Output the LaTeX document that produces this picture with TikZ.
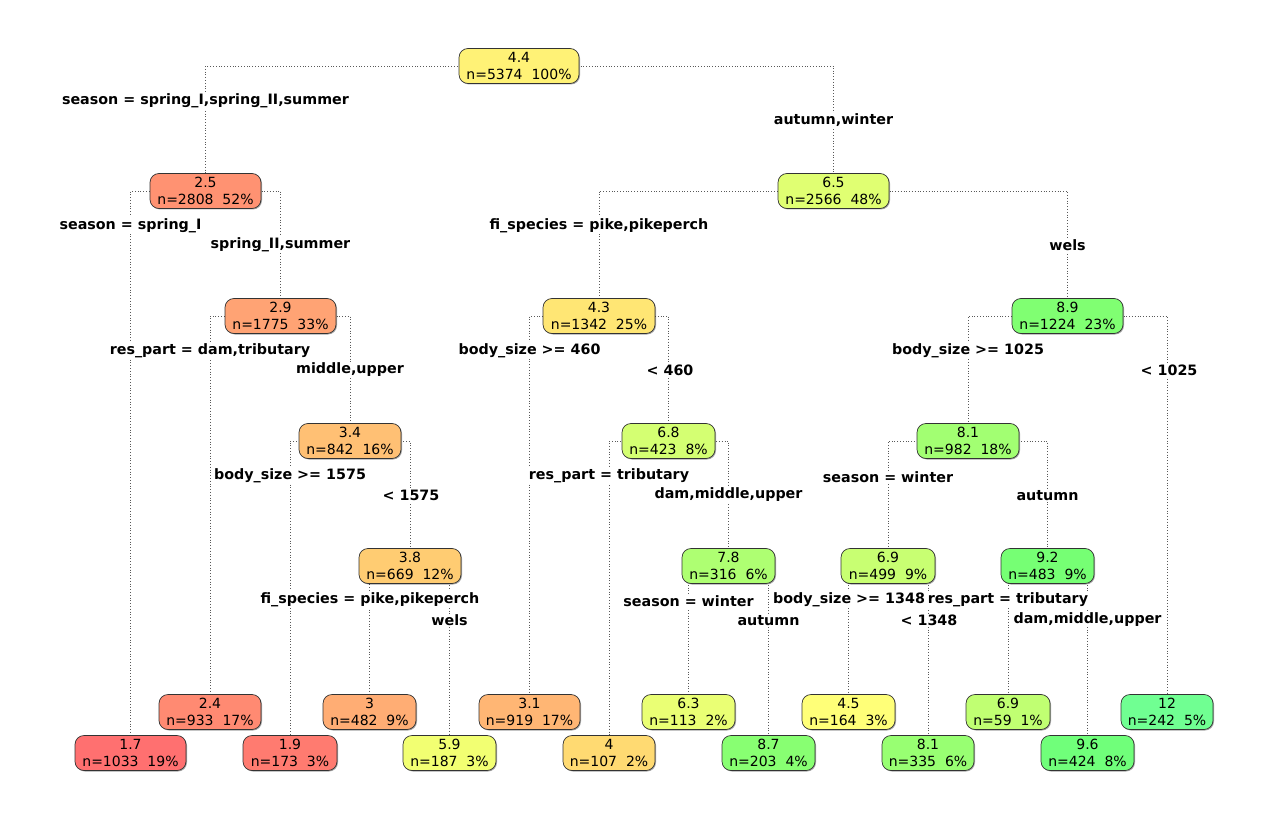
\documentclass[tikz,border=0pt]{standalone}
\usepackage{fontspec}
\setmainfont{DejaVu Sans}
\usetikzlibrary{shadows,backgrounds}
\definecolor{cA}{HTML}{FF7070}
\definecolor{cB}{HTML}{FF7B70}
\definecolor{cC}{HTML}{FF8A72}
\definecolor{cD}{HTML}{FF9272}
\definecolor{cE}{HTML}{FFA374}
\definecolor{cF}{HTML}{FFAD74}
\definecolor{cG}{HTML}{FFB674}
\definecolor{cH}{HTML}{FFC074}
\definecolor{cI}{HTML}{FFCC72}
\definecolor{cJ}{HTML}{FFDA72}
\definecolor{cK}{HTML}{FFE674}
\definecolor{cL}{HTML}{FFF276}
\definecolor{cM}{HTML}{FFFF78}
\definecolor{cN}{HTML}{F2FF72}
\definecolor{cO}{HTML}{EAFF74}
\definecolor{cP}{HTML}{E0FF72}
\definecolor{cQ}{HTML}{D4FF72}
\definecolor{cR}{HTML}{C8FF72}
\definecolor{cS}{HTML}{C0FF72}
\definecolor{cT}{HTML}{AEFF72}
\definecolor{cU}{HTML}{A2FF72}
\definecolor{cV}{HTML}{98FF72}
\definecolor{cW}{HTML}{88FF72}
\definecolor{cX}{HTML}{80FF72}
\definecolor{cY}{HTML}{76FF74}
\definecolor{cZ}{HTML}{70FF7A}
\definecolor{cZZ}{HTML}{70FF92}
\tikzset{
  box/.style={draw=black!80, line width=0.7pt, rounded corners=9pt, minimum height=35pt,
    inner sep=0pt, align=center, font=\fontsize{14}{17}\selectfont,
    drop shadow={shadow xshift=1pt, shadow yshift=-1pt, fill=black, opacity=0.35}},
  edge/.style={draw=black!65, line width=0.8pt, dash pattern=on 0.8pt off 2pt},
  lab/.style={fill=white, inner sep=1pt, yshift=-1.5pt, font=\fontsize{14.3}{17}\selectfont\bfseries}
}
\begin{document}
\begin{tikzpicture}[x=1pt,y=-1pt]
\useasboundingbox (0,0) rectangle (1276,818);
% internal nodes
\node[box, fill=cL, minimum width=120pt] (n1) at (519,66) {4.4\\n=5374\ \ 100\%};
\node[box, fill=cD, minimum width=111pt] (n2) at (205.5,191) {2.5\\n=2808\ \ 52\%};
\node[box, fill=cP, minimum width=111pt] (n3) at (833.5,191) {6.5\\n=2566\ \ 48\%};
\node[box, fill=cE, minimum width=111pt] (n4) at (280.5,316) {2.9\\n=1775\ \ 33\%};
\node[box, fill=cK, minimum width=112pt] (n5) at (599,316) {4.3\\n=1342\ \ 25\%};
\node[box, fill=cX, minimum width=111pt] (n6) at (1067.5,316) {8.9\\n=1224\ \ 23\%};
\node[box, fill=cH, minimum width=102pt] (n7) at (350,441) {3.4\\n=842\ \ 16\%};
\node[box, fill=cQ, minimum width=93pt] (n8) at (668.5,441) {6.8\\n=423\ \ 8\%};
\node[box, fill=cU, minimum width=102pt] (n9) at (968,441) {8.1\\n=982\ \ 18\%};
\node[box, fill=cI, minimum width=102pt] (n10) at (410,566) {3.8\\n=669\ \ 12\%};
\node[box, fill=cT, minimum width=93pt] (n11) at (728.5,566) {7.8\\n=316\ \ 6\%};
\node[box, fill=cR, minimum width=94pt] (n12) at (888,566) {6.9\\n=499\ \ 9\%};
\node[box, fill=cY, minimum width=93pt] (n13) at (1047.5,566) {9.2\\n=483\ \ 9\%};
% leaves
\node[box, fill=cA, minimum width=111pt] (l1) at (130.5,753) {1.7\\n=1033\ \ 19\%};
\node[box, fill=cC, minimum width=102pt] (l2) at (210,712) {2.4\\n=933\ \ 17\%};
\node[box, fill=cB, minimum width=94pt] (l3) at (290,753) {1.9\\n=173\ \ 3\%};
\node[box, fill=cF, minimum width=93pt] (l4) at (369.5,712) {3\\n=482\ \ 9\%};
\node[box, fill=cN, minimum width=93pt] (l5) at (449.5,753) {5.9\\n=187\ \ 3\%};
\node[box, fill=cG, minimum width=101pt] (l6) at (529.5,712) {3.1\\n=919\ \ 17\%};
\node[box, fill=cJ, minimum width=92pt] (l7) at (609,753) {4\\n=107\ \ 2\%};
\node[box, fill=cO, minimum width=93pt] (l8) at (688.5,712) {6.3\\n=113\ \ 2\%};
\node[box, fill=cW, minimum width=93pt] (l9) at (768.5,753) {8.7\\n=203\ \ 4\%};
\node[box, fill=cM, minimum width=93pt] (l10) at (848.5,712) {4.5\\n=164\ \ 3\%};
\node[box, fill=cV, minimum width=92pt] (l11) at (928,753) {8.1\\n=335\ \ 6\%};
\node[box, fill=cS, minimum width=84pt] (l12) at (1008,712) {6.9\\n=59\ \ 1\%};
\node[box, fill=cZ, minimum width=93pt] (l13) at (1087.5,753) {9.6\\n=424\ \ 8\%};
\node[box, fill=cZZ, minimum width=92pt] (l14) at (1167,712) {12\\n=242\ \ 5\%};
% edges
\begin{pgfonlayer}{background}
\foreach \p/\a/\b in {n1/n2/n3, n2/l1/n4, n3/n5/n6, n4/l2/n7, n7/l3/n10, n10/l4/l5,
  n5/l6/n8, n8/l7/n11, n11/l8/l9, n6/n9/l14, n9/n12/n13, n12/l10/l11, n13/l12/l13}{
  \draw[edge] (\p.center) -| (\a.north);
  \draw[edge] (\p.center) -| (\b.north);
}
\end{pgfonlayer}
% split labels
\node[lab] (s1) at (205.5,99) {season = spring\_I,spring\_II,summer};
\node[lab] (s2) at (833.5,119) {autumn,winter};
\node[lab] (s3) at (130.5,224) {season = spring\_I};
\node[lab] (s4) at (280.5,243) {spring\_II,summer};
\node[lab] (s5) at (599,224) {fi\_species = pike,pikeperch};
\node[lab] (s6) at (1067.5,244) {wels};
\node[lab] (s7) at (210,349) {res\_part = dam,tributary};
\node[lab] (s8) at (350,368) {middle,upper};
\node[lab] (s9) at (529.5,349) {body\_size >= 460};
\node[lab] (s10) at (670,369) {< 460};
\node[lab] (s11) at (968,349) {body\_size >= 1025};
\node[lab] (s12) at (1169,369) {< 1025};
\node[lab] (s13) at (290,474) {body\_size >= 1575};
\node[lab] (s14) at (411,494) {< 1575};
\node[lab] (s15) at (609,474) {res\_part = tributary};
\node[lab] (s16) at (728.5,493) {dam,middle,upper};
\node[lab] (s17) at (888,476) {season = winter};
\node[lab] (s18) at (1047.5,494) {autumn};
\node[lab] (s19) at (370,598) {fi\_species = pike,pikeperch};
\node[lab] (s20) at (449.5,619) {wels};
\node[lab] (s21) at (688.5,600) {season = winter};
\node[lab] (s22) at (768.5,619) {autumn};
\node[lab] (s23) at (849,598) {body\_size >= 1348};
\node[lab] (s24) at (929,619) {< 1348};
\node[lab] (s25) at (1008,598) {res\_part = tributary};
\node[lab] (s26) at (1087.5,618) {dam,middle,upper};
\end{tikzpicture}
\end{document}
